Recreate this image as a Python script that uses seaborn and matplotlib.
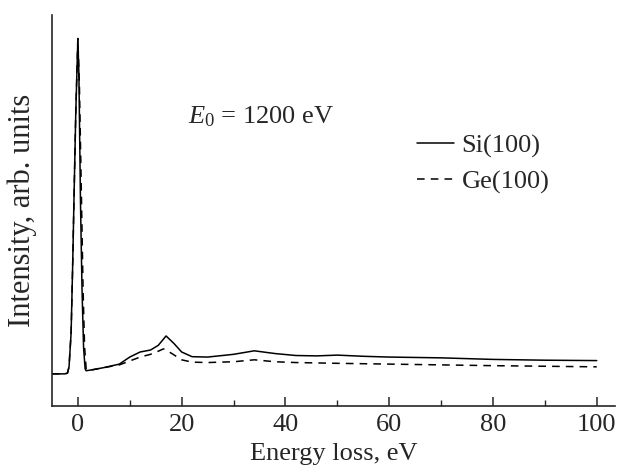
import matplotlib
matplotlib.use("Agg")
import matplotlib.pyplot as plt
import numpy as np
import pandas as pd
import seaborn as sns
from matplotlib.ticker import MultipleLocator

# energy loss (eV) and intensity (arb. units)
si_x = [-5, -2.5, -2, -1.7, -1.3, -1.0, -0.75, -0.4, 0, 0.2, 0.5, 0.8, 1.1, 1.4, 1.6,
        3, 5, 8, 10, 12, 14, 15.5, 17, 18.5, 20, 22, 25, 30, 34, 38, 42, 46, 50,
        55, 60, 70, 80, 90, 100]
si_y = [8.2, 8.2, 8.4, 10, 18.7, 36, 52.7, 75, 94, 85, 52.7, 30, 15, 9.5, 9.0,
        9.3, 9.8, 10.7, 12.5, 13.8, 14.3, 15.5, 17.9, 16.0, 13.8, 12.6, 12.5, 13.2, 14.1,
        13.4, 12.9, 12.8, 13.0, 12.7, 12.5, 12.3, 11.9, 11.7, 11.6]

ge_x = [-5, -2.5, -2, -1.7, -1.3, -1.0, -0.75, -0.4, 0, 0.3, 0.7, 1.0, 1.3, 1.6, 1.8,
        3, 5, 8, 10, 12, 14, 15.5, 16.5, 18, 20, 22, 25, 30, 34, 38, 42, 50,
        60, 70, 80, 90, 100]
ge_y = [8.2, 8.2, 8.4, 10, 18.7, 36, 52.7, 75, 94, 82, 52.7, 30, 15, 9.5, 9.0,
        9.3, 9.8, 10.5, 11.5, 12.5, 13.2, 14.0, 14.6, 13.5, 11.8, 11.2, 11.1, 11.3, 11.8,
        11.3, 11.1, 10.9, 10.7, 10.5, 10.3, 10.15, 10.0]

sns.set_style("ticks")
plt.rcParams["font.family"] = ["Liberation Serif", "DejaVu Serif"]
plt.rcParams["mathtext.fontset"] = "custom"
plt.rcParams["mathtext.rm"] = "Liberation Serif"
plt.rcParams["mathtext.it"] = "Liberation Serif:italic"

fig = plt.figure(figsize=(6.18, 4.72), dpi=100)
ax = fig.add_axes([0.084, 0.140, 0.911, 0.828])

sns.lineplot(x=si_x, y=si_y, ax=ax, color="black", lw=1.1, sort=False,
             estimator=None, label="Si(100)")
sns.lineplot(x=ge_x, y=ge_y, ax=ax, color="black", lw=1.1, sort=False,
             estimator=None, label="Ge(100)")
ax.lines[1].set_dashes((5, 4))

ax.set_xlim(-5, 103.5)
ax.set_ylim(0, 100)
ax.xaxis.set_major_locator(MultipleLocator(20))
ax.xaxis.set_minor_locator(MultipleLocator(10))
ax.tick_params(axis="x", which="major", direction="in", length=6.5, width=1.1,
               labelsize=19, pad=6)
ax.tick_params(axis="x", which="minor", direction="in", length=4.5, width=1.0)
ax.set_yticks([])
for s in ["top", "right"]:
    ax.spines[s].set_visible(False)
for s in ["left", "bottom"]:
    ax.spines[s].set_linewidth(1.2)

ax.set_xlabel("Energy loss, eV", fontsize=19, labelpad=5)
ax.set_ylabel("Intensity, arb. units", fontsize=22, labelpad=11)

ax.text(21.2, 72.4, r"$E_0$ = 1200 eV", fontsize=19, va="baseline", ha="left")

leg = ax.legend(loc="center left", bbox_to_anchor=(0.648, 0.619), frameon=False,
                fontsize=19, handlelength=1.4, borderaxespad=0, borderpad=0,
                labelspacing=0.45, handletextpad=0.3)

fig.savefig("out.png", dpi=100)
